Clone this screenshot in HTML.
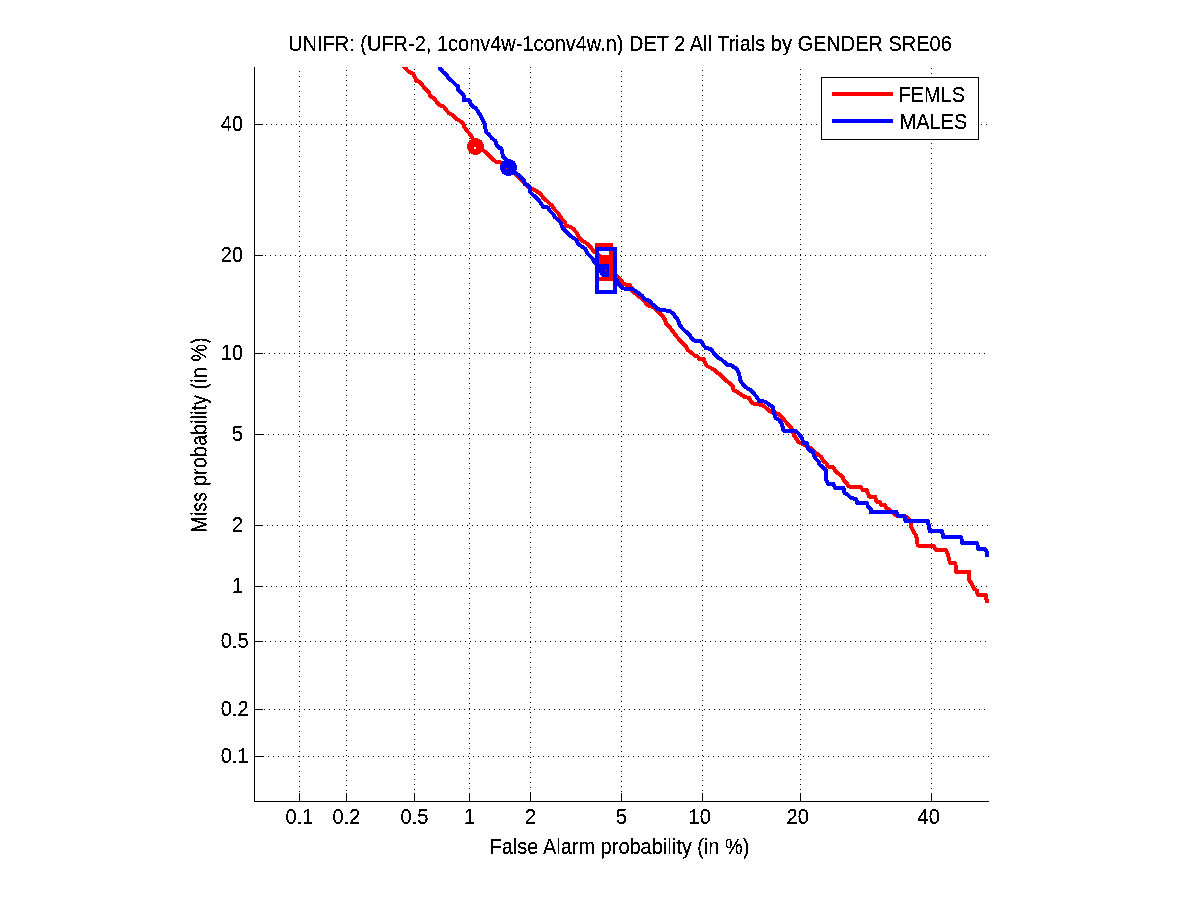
<!DOCTYPE html>
<html lang="en"><head><meta charset="utf-8"><title>DET plot</title>
<style>
html,body{margin:0;padding:0;background:#fff;}
body{width:1201px;height:900px;overflow:hidden;}
svg{display:block;}
text{font-family:"Liberation Sans",Arial,Helvetica,sans-serif;font-size:20px;fill:#000;}
.ax{stroke:#000;stroke-width:1;shape-rendering:crispEdges;fill:none;}
.gr{stroke:#000;stroke-width:1;stroke-dasharray:1 4;shape-rendering:crispEdges;fill:none;}
.cv{fill:none;stroke-width:4;stroke-linejoin:round;shape-rendering:crispEdges;}
</style></head><body>
<svg width="1201" height="900" viewBox="0 0 1201 900">
<rect x="0" y="0" width="1201" height="900" fill="#fff"/>
<defs><clipPath id="axc"><rect x="254" y="67" width="735" height="735"/></clipPath>
<filter id="crisp" x="0" y="0" width="1201" height="900" filterUnits="userSpaceOnUse" color-interpolation-filters="sRGB"><feComponentTransfer><feFuncA type="discrete" tableValues="0 0 0 0 1 1 1 1 1 1"/></feComponentTransfer></filter></defs>
<g class="gr">
<line x1="299.5" y1="71" x2="299.5" y2="801"/>
<line x1="258" y1="756.5" x2="989" y2="756.5"/>
<line x1="346.5" y1="70" x2="346.5" y2="801"/>
<line x1="259" y1="709.5" x2="989" y2="709.5"/>
<line x1="414.5" y1="69" x2="414.5" y2="801"/>
<line x1="255" y1="641.5" x2="989" y2="641.5"/>
<line x1="469.5" y1="68" x2="469.5" y2="801"/>
<line x1="256" y1="586.5" x2="989" y2="586.5"/>
<line x1="530.5" y1="67" x2="530.5" y2="801"/>
<line x1="257" y1="525.5" x2="989" y2="525.5"/>
<line x1="621.5" y1="71" x2="621.5" y2="801"/>
<line x1="258" y1="434.5" x2="989" y2="434.5"/>
<line x1="702.5" y1="70" x2="702.5" y2="801"/>
<line x1="259" y1="353.5" x2="989" y2="353.5"/>
<line x1="800.5" y1="69" x2="800.5" y2="801"/>
<line x1="255" y1="255.5" x2="989" y2="255.5"/>
<line x1="931.5" y1="68" x2="931.5" y2="801"/>
<line x1="256" y1="124.5" x2="989" y2="124.5"/>
</g>
<g clip-path="url(#axc)">
<polyline class="cv" stroke="#f00" points="402.5,65 405,67.7 409,72 413,73.7 415,77.3 416.3,80.7 420.3,82.3 423,86 425.7,89.3 429,92 430,96 433.7,98 436.3,101.3 439,104.7 443.7,106.7 446.3,110 449,113.3 453,115.3 456.3,118.7 460,121 463.3,123.7 464.7,127.7 467.3,131 470,134.3 472,137 475.5,146.5 484,151 487.3,153.7 490,156.3 493.3,159.7 496,161.7 500,162.3 508,168 515.4,173.6 522,180.5 529.4,187.9 533,189 536.7,191.3 540.7,194 543.3,198 546.7,200.7 550,204 551.7,205.3 554.3,209.3 558.3,213.3 560.3,216.7 562.3,220 565,222.7 566.3,226 570.3,226.7 573.7,229.3 577,233.3 579,237.3 582.3,240.7 585.7,242.7 589,245.3 591.7,248.7 593.7,251.3 600,256 604.5,263.5 611,270 617,276.8 620.7,279.5 623.3,283.5 626,285 630,285 632,290.5 635.3,293.5 638.7,296.2 642,298.8 645.3,302.2 646.7,304.8 650.7,306.2 654.7,308.2 657,310.5 659.3,312.7 662,315.3 664.7,319.3 666,323.3 669.3,326.7 672.7,331.3 675.7,335.3 679,339.3 682.3,342.7 685.7,346 687.7,350 691,352.3 694.3,355.3 697.7,356.7 699.7,359 703.7,359 705,362.7 707,366 711,368 714.3,370 717,372.7 720.3,374.7 723,377.3 726.3,380.7 729.3,383 732.7,386 733.7,390.3 737.3,392 740.7,394.3 744.7,397 749.3,398 751,401.7 754,404 759.3,404.3 764,406.3 767.3,409 770.7,411.7 778.7,414.3 781.3,416.3 784,419.7 787,423.3 790.3,426.7 792.7,430.5 793.7,434.7 796.3,438.7 798.3,442 803,444.5 808,447 811.7,448.7 816.3,453.3 821,456.7 823,460.7 826.3,463.3 828.3,466.7 833,467 836,471.7 839.3,474.3 842.7,477 843.7,480.3 846.7,483 848.7,486.3 850,487 860.7,487 862.7,490 866.7,490 868,493.7 869.3,496.7 875.3,497 876,501 877.3,502 880,502 881.3,505 884.7,505 886,507.7 888.7,509 890.7,511.7 893,512.5 896,515.5 905,516.5 907,517 910,521 911,525 911.7,528.3 913.7,532.3 916.3,535.7 917,541.7 917.7,545 919.7,546 933.7,546 935,548.7 936.3,550 945.7,550 947.7,554 949,558.7 950,563 955,563 956,567.3 956.3,572 969,572 969,580 971,582.7 973,586 974.3,588.7 977,590.7 977.7,594.7 985.7,595 986.3,598.7 987.3,601.3 987.5,603"/>
<polyline class="cv" stroke="#00f" points="438.5,64.5 440.3,68.7 443,72 446.3,74.7 448.3,78 451.7,80.7 455,84 458,86.7 458.3,90 461.7,92.7 463.7,96 463.7,100 467,100 469.7,100.7 471,104.7 473.7,107.3 476,108.3 478.3,112.3 480.7,115.7 482.7,119.7 484.7,124.3 485.3,128.3 486.3,132.3 489.3,135 492,138.3 495.3,141 496.7,145 498.7,147.7 501.3,148.3 502.3,153 503.3,157 506.7,159.7 508.5,167.3 518,174.7 521.3,178 524,180.7 524.7,184 528,185 530,188.7 530,192 533.3,195.3 536.7,198 540,202 542.7,206 543.7,207 547.7,207.3 549.7,210.7 553,214 555,217.3 558.3,220 561,223.3 562.3,227.3 565,230.7 568.3,234 571.7,236.7 576.3,240 577.7,243.3 581,246 585,248.7 586.3,251.3 588,254 592,258 595,263 600,267 605.5,270.5 611,275 617,280.7 619.3,284.7 622.7,288 625.3,289 632.7,289 637.3,292.3 642,295.7 644.7,299.3 649.3,300.7 652,304 655.3,306.7 658,309.3 664.7,310.3 669.3,311 673.3,313.3 675.3,316.7 678,320 679.3,324 681.3,327.3 684.7,330.7 686.3,332 689.7,335.3 692.3,339.3 695,340.7 701,341 703,344.7 705.7,348 711,349 713,352 715,354.7 717.7,357.3 721,359.3 724.3,362 727,364.7 731,365.3 734.3,367.3 737,369.3 739,373.3 739.7,377.3 740.7,381 743.3,385 747.3,388.3 751.3,390.3 754,393.7 756.7,397 759.3,401 765.3,401.7 768.7,404.3 772.7,407 774,412.3 775.3,417.7 778.7,419.7 781.3,423 783,427.7 783.3,430.7 795.7,431 799.7,434.7 802.3,438.7 803,442.7 807,443.3 807.7,448 809.7,450.7 813,451.3 813.7,455.3 815.7,458.7 818.3,461.3 819.7,464.7 823,467.3 826,470.5 826.5,481 828,483.7 833.3,484 835,488 843.3,488 844.7,493 848,495 850.7,497.7 856,499.3 857.3,503 866.7,503 868,506.3 870.7,509 870.7,512 896.5,512 897.7,515.7 904.3,516 905.7,521 927.7,521 929,526.3 929.7,531 941.7,531 942.7,534 943,537 961,537 961.7,540 962.3,543 977,543 977.7,546 978.3,549 985,549 986.7,551.3 986.7,557"/>
<circle cx="475.5" cy="146.5" r="8.5" fill="#f00" shape-rendering="crispEdges"/><rect x="474" y="147" width="2" height="2" fill="#fff"/>
<circle cx="508.5" cy="167.5" r="8.5" fill="#00f" shape-rendering="crispEdges"/><rect x="506" y="168" width="2" height="1" fill="#f00"/>
<rect x="599" y="255" width="10" height="10" fill="#f00"/>
<polygon points="599,264 609,264 609,277 602,277 599,272" fill="#00f" shape-rendering="crispEdges"/><rect x="605" y="270" width="2" height="1" fill="#f00"/>
<rect x="597" y="245" width="14" height="34" fill="none" stroke="#f00" stroke-width="4" shape-rendering="crispEdges"/>
<rect x="597" y="249" width="18" height="43" fill="none" stroke="#00f" stroke-width="4" shape-rendering="crispEdges"/>
</g>
<g class="ax">
<line x1="254.5" y1="67" x2="254.5" y2="802"/>
<line x1="254" y1="801.5" x2="989" y2="801.5"/>
<line x1="299.5" y1="793" x2="299.5" y2="801"/>
<line x1="254" y1="756.5" x2="263" y2="756.5"/>
<line x1="346.5" y1="793" x2="346.5" y2="801"/>
<line x1="254" y1="709.5" x2="263" y2="709.5"/>
<line x1="414.5" y1="793" x2="414.5" y2="801"/>
<line x1="254" y1="641.5" x2="263" y2="641.5"/>
<line x1="469.5" y1="793" x2="469.5" y2="801"/>
<line x1="254" y1="586.5" x2="263" y2="586.5"/>
<line x1="530.5" y1="793" x2="530.5" y2="801"/>
<line x1="254" y1="525.5" x2="263" y2="525.5"/>
<line x1="621.5" y1="793" x2="621.5" y2="801"/>
<line x1="254" y1="434.5" x2="263" y2="434.5"/>
<line x1="702.5" y1="793" x2="702.5" y2="801"/>
<line x1="254" y1="353.5" x2="263" y2="353.5"/>
<line x1="800.5" y1="793" x2="800.5" y2="801"/>
<line x1="254" y1="255.5" x2="263" y2="255.5"/>
<line x1="931.5" y1="793" x2="931.5" y2="801"/>
<line x1="254" y1="124.5" x2="263" y2="124.5"/>
</g>
<rect x="821.5" y="77.5" width="157" height="62" fill="#fff" stroke="#000" stroke-width="1" shape-rendering="crispEdges"/>
<rect x="832" y="92" width="61" height="4" fill="#f00"/>
<rect x="832" y="119" width="61" height="4" fill="#00f"/>
<g filter="url(#crisp)"><text transform="translate(299.5,824) scale(1,1.08)" text-anchor="middle">0.1</text>
<text transform="translate(248.5,763.3) scale(1,1.08)" text-anchor="end">0.1</text>
<text transform="translate(346.5,824) scale(1,1.08)" text-anchor="middle">0.2</text>
<text transform="translate(248.5,716.3) scale(1,1.08)" text-anchor="end">0.2</text>
<text transform="translate(414.5,824) scale(1,1.08)" text-anchor="middle">0.5</text>
<text transform="translate(248.5,648.3) scale(1,1.08)" text-anchor="end">0.5</text>
<text transform="translate(469.5,824) scale(1,1.08)" text-anchor="middle">1</text>
<text transform="translate(243,593.3) scale(1,1.08)" text-anchor="end">1</text>
<text transform="translate(530.5,824) scale(1,1.08)" text-anchor="middle">2</text>
<text transform="translate(243,532.3) scale(1,1.08)" text-anchor="end">2</text>
<text transform="translate(621.5,824) scale(1,1.08)" text-anchor="middle">5</text>
<text transform="translate(243,441.3) scale(1,1.08)" text-anchor="end">5</text>
<text transform="translate(699.7,824) scale(1,1.08)" text-anchor="middle">10</text>
<text transform="translate(243,360.3) scale(1,1.08)" text-anchor="end">10</text>
<text transform="translate(797.7,824) scale(1,1.08)" text-anchor="middle">20</text>
<text transform="translate(243,262.3) scale(1,1.08)" text-anchor="end">20</text>
<text transform="translate(928.7,824) scale(1,1.08)" text-anchor="middle">40</text>
<text transform="translate(243,131.3) scale(1,1.08)" text-anchor="end">40</text>
<text transform="translate(620,51) scale(1,1.08)" text-anchor="middle">UNIFR: (UFR-2, 1conv4w-1conv4w.n) DET 2 All Trials by GENDER SRE06</text>
<text transform="translate(619.5,854) scale(1,1.08)" text-anchor="middle">False Alarm probability (in %)</text>
<text transform="translate(206,435) rotate(-90) scale(1,1.08)" text-anchor="middle">Miss probability (in %)</text>
<text transform="translate(898.5,101.5) scale(1,1.08)">FEMLS</text>
<text transform="translate(899.5,128.5) scale(1,1.08)">MALES</text></g>
</svg></body></html>
